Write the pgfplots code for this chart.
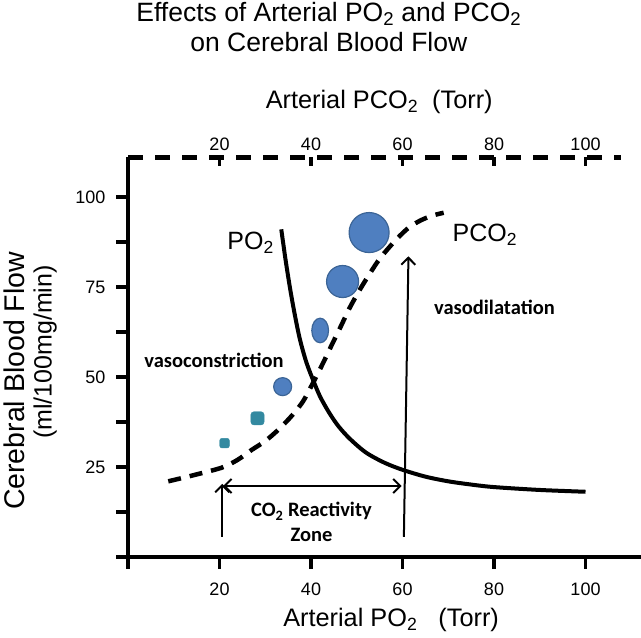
\documentclass[border=0pt]{standalone}
\usepackage{fontspec}
\setmainfont{Liberation Sans}
\newfontfamily\calfont{Carlito}
\usepackage{pgfplots}
\pgfplotsset{compat=1.18}
\usetikzlibrary{arrows.meta}
\definecolor{bubble}{HTML}{4F7FC0}
\definecolor{bubbleedge}{HTML}{3B6496}
\definecolor{tealc}{HTML}{3389A0}

\pgfdeclareplotmark{rsquare*}{%
  \path[fill=tealc, draw=tealc, rounded corners=0.45\pgfplotmarksize]
    (-\pgfplotmarksize,-\pgfplotmarksize) rectangle (\pgfplotmarksize,\pgfplotmarksize);}

\pgfplotstableread{
x y
33.5 91
34.5 82
35.5 74
36.5 67
37.6 60.3
39 54
40.5 49
42 44.5
44 40
46 36.3
48.5 32.8
52 29
56 26.2
60 24.2
65 22.3
70 21
75 20.1
80 19.4
90 18.6
100 18.1
}\potable

\pgfplotstableread{
x y
8.8 21
14 22.6
20.5 24.8
24 27
27 29.7
30 32.2
33 35.5
36 39.5
38.3 43.3
40.5 48.5
42.5 53.5
44.5 58.8
46.5 64
48.5 69.3
50.8 74.5
53 79
55 82.8
57.3 86.3
59.5 89.3
61.6 91.7
64 93.5
66.5 94.8
69 95.6
}\pcotable

\begin{document}
\begin{tikzpicture}
\begin{axis}[
  x=4.575bp, y=3.6bp,
  xmin=0, xmax=108, ymin=0, ymax=111,
  anchor=origin, at={(0,0)},
  axis x line*=bottom, axis y line*=left,
  axis line style={draw=none},
  clip=false,
  xtick={0,20,40,60,80,100},
  xticklabels={{},20,40,60,80,100},
  ytick={0,12.5,25,37.5,50,62.5,75,87.5,100},
  yticklabels={{},{},25,{},50,{},75,{},100},
  tick align=outside,
  major tick length=12bp,
  every tick/.style={black, line width=3.5bp},
  tick label style={font=\fontsize{18bp}{18bp}\selectfont},
  xticklabel style={yshift=-10bp},
  yticklabel style={xshift=-7bp},
  /pgf/number format/assume math mode=true,
]
\coordinate (bl) at (axis cs:-27.98,-22.5);
\coordinate (tr) at (axis cs:112.13,154.7);

% axis frame lines
\draw[line width=4.5bp] (axis cs:0,-0.6) -- (axis cs:0,111);
\draw[line width=4.5bp] (axis cs:-2.4,0) -- (axis cs:112.2,0);
\draw[line width=4.5bp, dash pattern=on 15bp off 12bp] (axis cs:0,111) -- (axis cs:107.8,111);

% curves
\addplot[black, line width=4bp, smooth, no markers] table {\potable};
\addplot[black, line width=4.5bp, smooth, no markers, dash pattern=on 13bp off 9bp] table {\pcotable};

% bubbles
\addplot[only marks, mark=*, mark size=20bp, mark options={fill=bubble, draw=bubbleedge, line width=1.2bp}] coordinates {(52.7,90.1)};
\addplot[only marks, mark=*, mark size=16bp, mark options={fill=bubble, draw=bubbleedge, line width=1.2bp}] coordinates {(46.9,76.5)};
\addplot[only marks, mark=*, mark size=12.3bp, mark options={fill=bubble, draw=bubbleedge, line width=1.2bp, xscale=0.68}] coordinates {(42.0,62.9)};
\addplot[only marks, mark=*, mark size=9bp, mark options={fill=bubble, draw=bubbleedge, line width=1.2bp}] coordinates {(33.8,47.3)};
\addplot[only marks, mark=rsquare*, mark size=6.6bp] coordinates {(28.3,38.5)};
\addplot[only marks, mark=rsquare*, mark size=4.8bp] coordinates {(21.1,31.6)};

% arrows
\addplot[black, line width=2bp, -{Straight Barb[length=7bp,width=14bp]}] coordinates {(60.3,5.6) (61.3,83.5)};
\addplot[black, line width=2bp, -{Straight Barb[length=7bp,width=14bp]}] coordinates {(20.6,5.6) (20.6,20.3)};
\addplot[black, line width=2bp, {Straight Barb[length=7bp,width=14bp]}-{Straight Barb[length=7bp,width=14bp]}] coordinates {(20.8,19.7) (59.8,19.7)};

% texts
\node[align=center, font=\fontsize{26.5bp}{30bp}\selectfont] at (axis cs:43.9,147.2) {Effects of Arterial PO\textsubscript{2} and PCO\textsubscript{2}\\on Cerebral Blood Flow};
\node[font=\fontsize{25.3bp}{25bp}\selectfont] at (axis cs:54.9,126.4) {Arterial PCO\textsubscript{2}\ \ (Torr)};
\node[font=\fontsize{25.3bp}{25bp}\selectfont] at (axis cs:57.5,-17.5) {Arterial PO\textsubscript{2}\ \ \ (Torr)};
\node[rotate=90, font=\fontsize{28.5bp}{28bp}\selectfont] at (axis cs:-24.9,48.9) {Cerebral Blood Flow};
\node[rotate=90, font=\fontsize{25bp}{25bp}\selectfont] at (axis cs:-18.1,56.9) {(ml/100mg/min)};
\node[font=\fontsize{25bp}{25bp}\selectfont] at (axis cs:26.8,87.2) {PO\textsubscript{2}};
\node[font=\fontsize{25bp}{25bp}\selectfont] at (axis cs:78,89.4) {PCO\textsubscript{2}};
\node[font=\calfont\bfseries\fontsize{20.5bp}{20.5bp}\selectfont] at (axis cs:18.8,54.7) {vasoconstriction};
\node[font=\calfont\bfseries\fontsize{20.5bp}{20.5bp}\selectfont] at (axis cs:80.1,69.2) {vasodilatation};
\node[align=center, font=\calfont\bfseries\fontsize{20.5bp}{25bp}\selectfont] at (axis cs:40.1,9.6) {CO\textsubscript{2} Reactivity\\Zone};
\end{axis}

\begin{axis}[
  x=4.575bp, y=3.6bp,
  xmin=0, xmax=108, ymin=0, ymax=111,
  anchor=origin, at={(0,0)},
  axis x line*=top, hide y axis,
  axis line style={draw=none},
  xtick={20,40,60,80,100},
  tick align=inside,
  major tick length=9bp,
  every tick/.style={black, line width=3.5bp},
  tick label style={font=\fontsize{18bp}{18bp}\selectfont},
  xticklabel style={yshift=3bp},
  /pgf/number format/assume math mode=true,
]
\addplot[draw=none] coordinates {(0,0)};
\end{axis}
\pgfresetboundingbox
\path[use as bounding box] (bl) rectangle (tr);
\end{tikzpicture}
\end{document}
